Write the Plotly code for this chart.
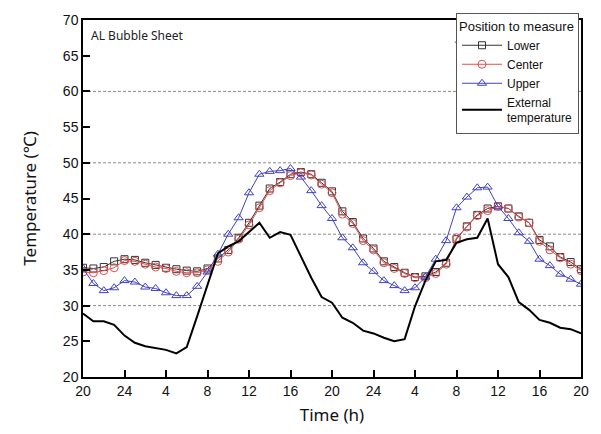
import plotly.graph_objects as go

hours = list(range(49))
tick_vals = list(range(0, 49, 4))
tick_text = ["20", "24", "4", "8", "12", "16", "20", "24", "4", "8", "12", "16", "20"]

lower = [35.3, 35.2, 35.4, 36.2, 36.5, 36.4, 36.0, 35.7, 35.3, 35.1, 34.9, 34.8, 35.2,
         36.6, 37.8, 39.5, 41.6, 44.0, 46.4, 47.3, 48.4, 48.7, 48.4, 47.2, 46.0,
         43.2, 41.7, 39.4, 38.0, 36.2, 35.4, 34.6, 34.0, 34.1, 34.7, 36.0, 39.3,
         41.1, 42.7, 43.6, 43.9, 43.6, 42.5, 41.6, 39.2, 38.3, 36.8, 36.1, 35.1]
center = [34.7, 34.6, 34.9, 35.3, 36.3, 36.2, 35.8, 35.4, 35.2, 34.8, 34.6, 34.6, 35.0,
          36.2, 37.5, 39.3, 41.3, 43.7, 46.1, 47.2, 48.2, 48.6, 48.3, 47.0, 45.8,
          42.8, 41.5, 39.1, 37.8, 36.0, 35.2, 34.5, 33.9, 33.9, 34.5, 35.8, 39.5,
          41.0, 42.6, 43.3, 43.9, 43.6, 42.4, 41.6, 39.0, 37.8, 36.7, 35.8, 34.9]
upper = [35.2, 33.1, 32.1, 32.5, 33.5, 33.3, 32.6, 32.4, 31.8, 31.4, 31.4, 32.7, 34.7,
         37.2, 40.0, 42.3, 45.8, 48.4, 48.8, 48.9, 49.2, 48.0, 46.1, 44.0, 42.2,
         39.5, 38.1, 36.0, 34.8, 33.5, 32.8, 32.1, 32.5, 34.0, 36.5, 39.1, 43.7,
         45.2, 46.5, 46.6, 43.9, 42.2, 40.2, 39.0, 36.5, 35.6, 34.4, 33.7, 33.0]
external = [28.9, 27.8, 27.8, 27.3, 25.8, 24.8, 24.3, 24.0, 23.8, 23.3, 24.2, 28.5, 32.8,
            37.3, 38.3, 39.0, 40.3, 41.6, 39.5, 40.3, 39.9, 36.9, 33.9, 31.2, 30.4,
            28.3, 27.6, 26.5, 26.1, 25.5, 25.0, 25.3, 29.9, 33.5, 36.2, 36.4, 38.8,
            39.3, 39.5, 42.2, 35.8, 34.0, 30.5, 29.4, 28.0, 27.6, 26.9, 26.7, 26.1]
grid_levels = [30, 40, 50, 60]

fig = go.Figure()
fig.add_trace(go.Scatter(x=hours, y=lower, name="Lower", mode="lines+markers",
                         line=dict(color="#333333", width=1),
                         marker=dict(symbol="square-open", size=7, color="#333333", line=dict(width=1))))
fig.add_trace(go.Scatter(x=hours, y=center, name="Center", mode="lines+markers",
                         line=dict(color="#e05050", width=1),
                         marker=dict(symbol="circle-open", size=8, color="#e05050", line=dict(width=1))))
fig.add_trace(go.Scatter(x=hours, y=upper, name="Upper", mode="lines+markers",
                         line=dict(color="#4040c8", width=1),
                         marker=dict(symbol="triangle-up-open", size=8, color="#4040c8", line=dict(width=1))))
fig.add_trace(go.Scatter(x=hours, y=external, name="External<br>temperature", mode="lines",
                         line=dict(color="#000000", width=2)))

for g in grid_levels:
    fig.add_shape(type="line", xref="x", yref="y", x0=0, x1=48, y0=g, y1=g,
                  line=dict(color="#8a8a8a", width=1, dash="3px,2px"), layer="below")

# separator under the legend title
fig.add_shape(type="line", xref="paper", yref="paper", x0=0.7465, x1=0.995, y0=0.938, y1=0.938,
              line=dict(color="#555555", width=1), layer="above")

fig.add_annotation(text="AL Bubble Sheet", xref="paper", yref="paper", x=0.012, y=0.985,
                   xanchor="left", yanchor="top", showarrow=False,
                   font=dict(family="Noto Sans", size=12, color="#222222"))

fig.update_layout(
    width=601, height=434,
    margin=dict(l=83, r=17, t=12, b=57),
    paper_bgcolor="white", plot_bgcolor="white",
    showlegend=True,
    legend=dict(
        x=0.996, y=1.02, xanchor="right", yanchor="top",
        bgcolor="white", bordercolor="#555555", borderwidth=1,
        title=dict(text="Position to measure", font=dict(family="Liberation Sans", size=13, color="#111111")),
        font=dict(family="Liberation Sans", size=12, color="#111111"),
        tracegroupgap=0, itemwidth=40,
    ),
    xaxis=dict(
        range=[0, 48], tickvals=tick_vals, ticktext=tick_text,
        ticks="inside", ticklen=7, tickwidth=1.5, tickcolor="black",
        showline=True, linecolor="black", linewidth=1.5, mirror=True,
        showgrid=False, zeroline=False,
        tickfont=dict(family="Liberation Sans", size=14, color="#111111"),
        title=dict(text="Time (h)", font=dict(family="Noto Sans", size=17, color="#111111"), standoff=12),
    ),
    yaxis=dict(
        range=[20, 70], dtick=5, tick0=20,
        ticks="inside", ticklen=7, tickwidth=1.5, tickcolor="black",
        showline=True, linecolor="black", linewidth=1.5, mirror=True,
        showgrid=False, zeroline=False,
        tickfont=dict(family="Liberation Sans", size=14, color="#111111"),
        title=dict(text="Temperature (℃)", font=dict(family="Noto Sans", size=17, color="#111111"), standoff=22),
    ),
)

fig.write_html("out.html")
